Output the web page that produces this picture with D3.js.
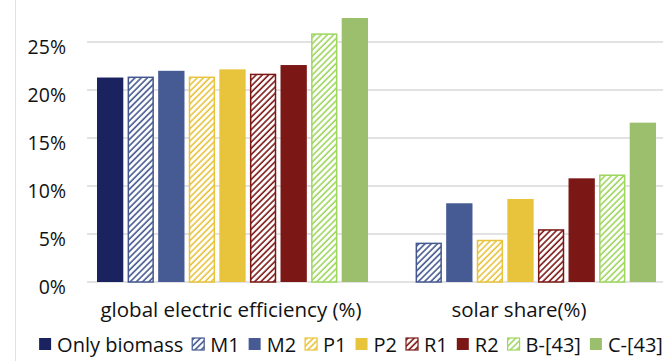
<!DOCTYPE html>
<html>
<head>
<meta charset="utf-8">
<script src="https://cdn.jsdelivr.net/npm/d3@7"></script>
<style>
  html, body { margin: 0; padding: 0; background: #fff; }
  svg { display: block; }
  text { font-family: "Open Sans", Lato, sans-serif; }
</style>
</head>
<body>
<svg id="chart" width="670" height="361"></svg>
<script>
// Metrics on the category axis
const categories = ["global electric efficiency (%)", "solar share(%)"];

// Configurations (legend order)
const series = ["Only biomass", "M1", "M2", "P1", "P2", "R1", "R2", "B-[43]", "C-[43]"];
const colors = ["#1b2260", "#44588f", "#465a93", "#e8c33c", "#e8c33c", "#7b1816", "#7b1816", "#9ed65e", "#9cbf6e"];
const hatched = [false, true, false, true, false, true, false, true, false];

// Values per configuration, one entry per category (fractions)
const efficiency = [0.213, 0.214, 0.220, 0.214, 0.2215, 0.217, 0.226, 0.259, 0.275];
const solarShare = [0.0, 0.041, 0.082, 0.044, 0.0865, 0.055, 0.108, 0.112, 0.166];

const yTicks = [0, 0.05, 0.10, 0.15, 0.20, 0.25];

const FONT = "'Open Sans', Lato, sans-serif";
const svg = d3.select("#chart");
const values = [efficiency, solarShare];

// Hatch patterns for the striped configurations
const defs = svg.append("defs");
series.forEach((s, i) => {
  if (!hatched[i]) return;
  const p = defs.append("pattern")
    .attr("id", "hatch" + i)
    .attr("patternUnits", "userSpaceOnUse")
    .attr("width", 4.4).attr("height", 4.4)
    .attr("patternTransform", "rotate(45)");
  p.append("rect").attr("width", 4.4).attr("height", 4.4).attr("fill", "#fff");
  p.append("line").attr("x1", 1).attr("y1", 0).attr("x2", 1).attr("y2", 4.4)
    .attr("stroke", colors[i]).attr("stroke-width", 1.6);
});

// Thin frame edge on the left
svg.append("line").attr("x1", 15.5).attr("x2", 15.5).attr("y1", 0).attr("y2", 361)
  .attr("stroke", "#e2e2e2").attr("stroke-width", 1);

const x0 = d3.scaleBand().domain(categories).range([87, 663]);
const x1 = d3.scaleBand().domain(series).range([10, 281]).paddingInner(0.14);
const y = d3.scaleLinear().domain([0, 0.25]).range([282, 42]);

// Gridlines
svg.append("g").selectAll("line").data(yTicks).join("line")
  .attr("x1", 87).attr("x2", 663)
  .attr("y1", d => y(d)).attr("y2", d => y(d))
  .attr("stroke", "#d9d9d9").attr("stroke-width", 1.4);

// Y axis labels (sit slightly below their gridlines)
const yAxis = d3.axisLeft(y).tickValues(yTicks).tickFormat(d3.format(".0%")).tickSize(0).tickPadding(0);
const gy = svg.append("g").attr("transform", "translate(66,5)").call(yAxis);
gy.select(".domain").remove();
gy.selectAll("text").attr("font-size", 19.5).attr("fill", "#111")
  .style("font-family", FONT);

// Bars
const groups = svg.append("g").selectAll("g").data(categories).join("g")
  .attr("transform", d => `translate(${x0(d)},0)`);

groups.each(function (cat, ci) {
  const rows = series.map((s, i) => ({ s, i, v: values[ci][i] })).filter(r => r.v > 0);
  d3.select(this).selectAll("rect").data(rows).join("rect")
    .attr("x", r => x1(r.s) + (hatched[r.i] ? 0.75 : 0))
    .attr("width", r => x1.bandwidth() - (hatched[r.i] ? 1.5 : 0))
    .attr("y", r => y(r.v) + (hatched[r.i] ? 0.75 : 0))
    .attr("height", r => y(0) - y(r.v) - (hatched[r.i] ? 0.75 : 0))
    .attr("fill", r => hatched[r.i] ? `url(#hatch${r.i})` : colors[r.i])
    .attr("stroke", r => hatched[r.i] ? colors[r.i] : "none")
    .attr("stroke-width", 1.5);
});

// Category axis labels
const xAxis = d3.axisBottom(x0).tickSize(0).tickPadding(0);
const gx = svg.append("g").attr("transform", "translate(0,302)").call(xAxis);
gx.select(".domain").remove();
gx.selectAll("text").attr("font-size", 20.5).attr("fill", "#111")
  .style("font-family", FONT);

// Legend
const legend = svg.append("g").attr("transform", "translate(0,345)");
const items = legend.selectAll("g").data(series).join("g");
items.append("rect")
  .attr("width", 12).attr("height", 12).attr("y", -7)
  .attr("fill", (d, i) => hatched[i] ? `url(#hatch${i})` : colors[i])
  .attr("stroke", (d, i) => hatched[i] ? colors[i] : "none")
  .attr("stroke-width", 1.2);
items.append("text")
  .attr("x", 18).attr("dy", "0.35em")
  .attr("font-size", 20).attr("fill", "#111")
  .style("font-family", FONT)
  .text(d => d);

let cursor = 0;
const pos = [];
items.each(function () {
  const w = d3.select(this).select("text").node().getComputedTextLength();
  pos.push(cursor);
  cursor += 18 + w + 9;
});
const total = cursor - 9;
const start = 39 + (624 - total) / 2;
items.attr("transform", (d, i) => `translate(${start + pos[i]},0)`);
</script>
</body>
</html>
